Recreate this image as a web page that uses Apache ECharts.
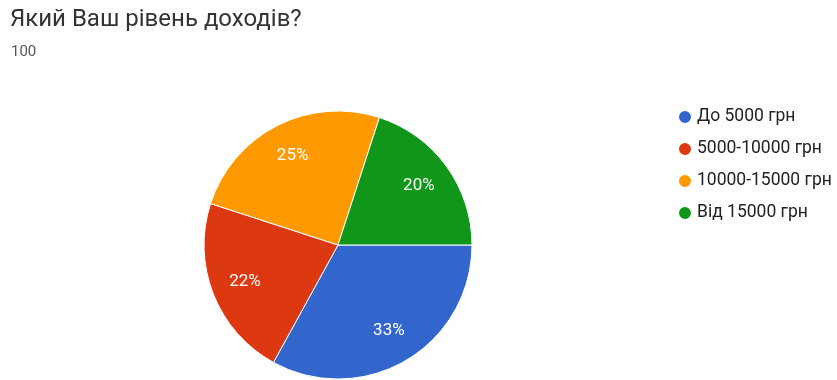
<!DOCTYPE html>
<html>
<head>
<meta charset="utf-8">
<script src="https://cdn.jsdelivr.net/npm/echarts@6/dist/echarts.min.js"></script>
<style>
  html, body { margin: 0; padding: 0; background: #fff; }
  #chart { width: 837px; height: 380px; }
</style>
</head>
<body>
<div id="chart"></div>
<script>
  // дані з опитування
  var categories = ['До 5000 грн', '5000-10000 грн', '10000-15000 грн', 'Від 15000 грн'];
  var values = [33, 22, 25, 20];
  var colors = ['#3366cc', '#dc3912', '#ff9900', '#109618'];
  var titleText = 'Який Ваш рівень доходів?';
  var responses = '100';

  var pieData = categories.map(function (name, i) {
    return { name: name, value: values[i], itemStyle: { color: colors[i] } };
  });

  var chart = echarts.init(document.getElementById('chart'));
  chart.setOption({
    animation: false,
    textStyle: { fontFamily: 'Roboto, Arial, sans-serif' },
    title: [{
      text: titleText,
      left: 10,
      top: 8,
      padding: 0,
      textStyle: { fontSize: 24, fontWeight: 'normal', color: '#333' }
    }, {
      text: responses,
      left: 11,
      top: 45,
      padding: 0,
      textStyle: { fontSize: 15, fontWeight: 'normal', color: '#555' }
    }],
    legend: {
      orient: 'vertical',
      left: 677,
      top: 108,
      padding: 0,
      icon: 'circle',
      itemWidth: 14,
      itemHeight: 14,
      itemGap: 14,
      data: categories,
      textStyle: { fontSize: 17.5, lineHeight: 17, color: '#222' }
    },
    series: [{
      // самі сектори
      type: 'pie',
      center: [338, 245],
      radius: [0, 134],
      startAngle: 0,
      clockwise: true,
      data: pieData,
      itemStyle: { borderColor: '#fff', borderWidth: 1 },
      label: { show: false },
      labelLine: { show: false },
      emphasis: { disabled: true }
    }, {
      // прозорий шар тільки для підписів, щоб вони стояли ближче до краю
      type: 'pie',
      center: [338, 245],
      radius: [0, 194],
      startAngle: 0,
      clockwise: true,
      silent: true,
      data: categories.map(function (name, i) {
        return { name: name, value: values[i] };
      }),
      itemStyle: { color: 'rgba(0,0,0,0)', borderWidth: 0 },
      label: {
        show: true,
        position: 'inside',
        formatter: '{d}%',
        color: '#fff',
        fontSize: 17
      },
      labelLine: { show: false },
      emphasis: { disabled: true }
    }]
  });
</script>
</body>
</html>
